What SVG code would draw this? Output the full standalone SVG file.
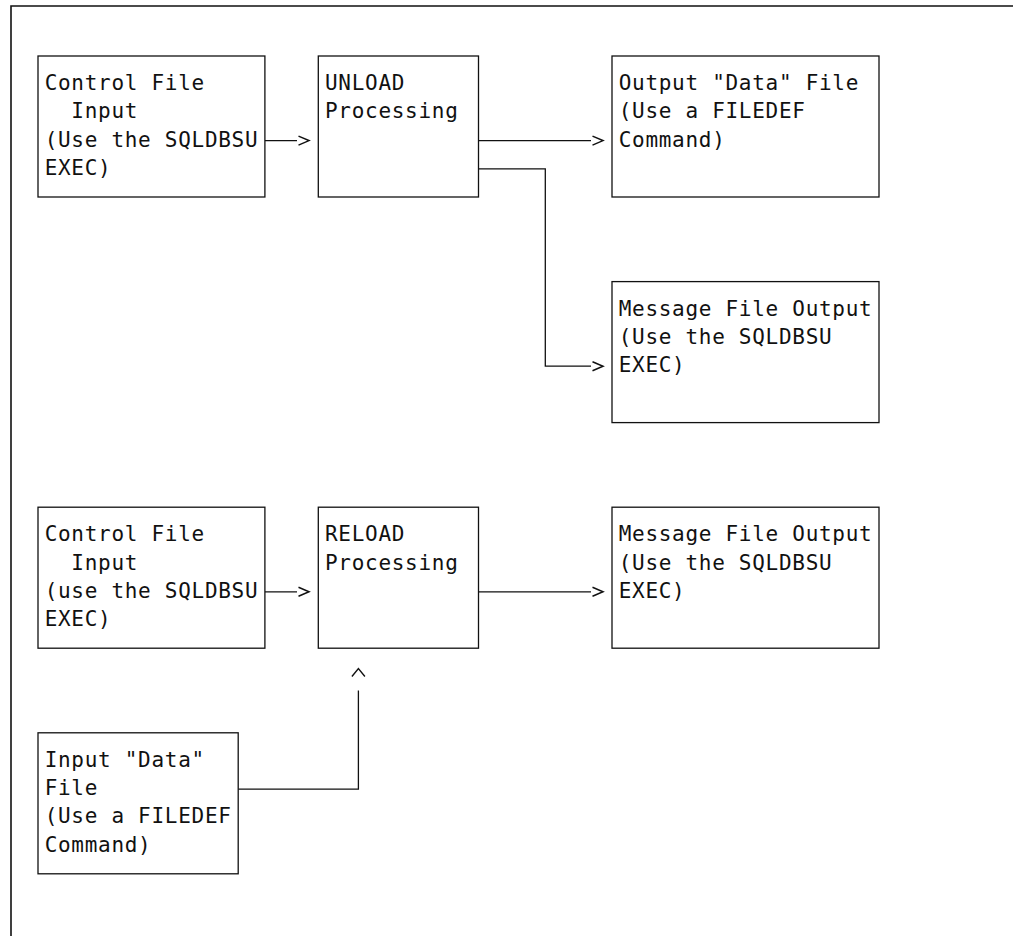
<svg xmlns="http://www.w3.org/2000/svg" width="1013" height="936" viewBox="0 0 1013 936">
<style>
  .box { fill: #fff; stroke: #111; stroke-width: 1.3; }
  .lbl { font-family: "DejaVu Sans Mono", "Liberation Mono", monospace; font-size: 21px; letter-spacing: 0.71px; fill: #111; }
  .conn { fill: none; stroke: #111; stroke-width: 1.3; }
  .frame { fill: none; stroke: #111; stroke-width: 1.6; }
</style>
<defs>
  <marker id="arr" markerUnits="userSpaceOnUse" markerWidth="14" markerHeight="14" refX="0" refY="7" orient="auto" overflow="visible">
    <path d="M1.5,2.5 L12,7 L1.5,11.5" fill="none" stroke="#111" stroke-width="1.5"/>
  </marker>
  <marker id="caret" markerUnits="userSpaceOnUse" markerWidth="24" markerHeight="16" refX="0" refY="8" orient="auto" overflow="visible">
    <path d="M14,1.5 L22,8 L14,14.5" fill="none" stroke="#111" stroke-width="1.4"/>
  </marker>
</defs>
<rect width="1013" height="936" fill="#fff"/>
<path class="frame" d="M11,936 V6 H1013"/>

<g id="connectors">
  <path class="conn" d="M264.9,140.6 H297" marker-end="url(#arr)"/>
  <path class="conn" d="M478.5,140.6 H591" marker-end="url(#arr)"/>
  <path class="conn" d="M478.5,168.8 H545.3 V366.2 H591" marker-end="url(#arr)"/>
  <path class="conn" d="M264.9,591.8 H297" marker-end="url(#arr)"/>
  <path class="conn" d="M478.5,591.8 H591" marker-end="url(#arr)"/>
  <path class="conn" d="M238.2,789.2 H358.4 V690.5" marker-end="url(#caret)"/>
</g>

<g id="unload-control-input">
  <rect class="box" x="38" y="56" width="226.9" height="141"/>
  <text class="lbl" x="44.65" y="90.1">Control File</text>
  <text class="lbl" x="71.35" y="118.3">Input</text>
  <text class="lbl" x="44.65" y="146.5">(Use the SQLDBSU</text>
  <text class="lbl" x="44.65" y="174.7">EXEC)</text>
</g>

<g id="unload-processing">
  <rect class="box" x="318.3" y="56" width="160.2" height="141"/>
  <text class="lbl" x="325" y="90.1">UNLOAD</text>
  <text class="lbl" x="325" y="118.3">Processing</text>
</g>

<g id="output-data-file">
  <rect class="box" x="612" y="56" width="267" height="141"/>
  <text class="lbl" x="618.7" y="90.1">Output "Data" File</text>
  <text class="lbl" x="618.7" y="118.3">(Use a FILEDEF</text>
  <text class="lbl" x="618.7" y="146.5">Command)</text>
</g>

<g id="unload-message-output">
  <rect class="box" x="612" y="281.6" width="267" height="141"/>
  <text class="lbl" x="618.7" y="315.7">Message File Output</text>
  <text class="lbl" x="618.7" y="343.9">(Use the SQLDBSU</text>
  <text class="lbl" x="618.7" y="372.1">EXEC)</text>
</g>

<g id="reload-control-input">
  <rect class="box" x="38" y="507.2" width="226.9" height="141"/>
  <text class="lbl" x="44.65" y="541.3">Control File</text>
  <text class="lbl" x="71.35" y="569.5">Input</text>
  <text class="lbl" x="44.65" y="597.7">(use the SQLDBSU</text>
  <text class="lbl" x="44.65" y="625.9">EXEC)</text>
</g>

<g id="reload-processing">
  <rect class="box" x="318.3" y="507.2" width="160.2" height="141"/>
  <text class="lbl" x="325" y="541.3">RELOAD</text>
  <text class="lbl" x="325" y="569.5">Processing</text>
</g>

<g id="reload-message-output">
  <rect class="box" x="612" y="507.2" width="267" height="141"/>
  <text class="lbl" x="618.7" y="541.3">Message File Output</text>
  <text class="lbl" x="618.7" y="569.5">(Use the SQLDBSU</text>
  <text class="lbl" x="618.7" y="597.7">EXEC)</text>
</g>

<g id="input-data-file">
  <rect class="box" x="38" y="732.8" width="200.2" height="141"/>
  <text class="lbl" x="44.65" y="766.9">Input "Data"</text>
  <text class="lbl" x="44.65" y="795.1">File</text>
  <text class="lbl" x="44.65" y="823.3">(Use a FILEDEF</text>
  <text class="lbl" x="44.65" y="851.5">Command)</text>
</g>
</svg>
